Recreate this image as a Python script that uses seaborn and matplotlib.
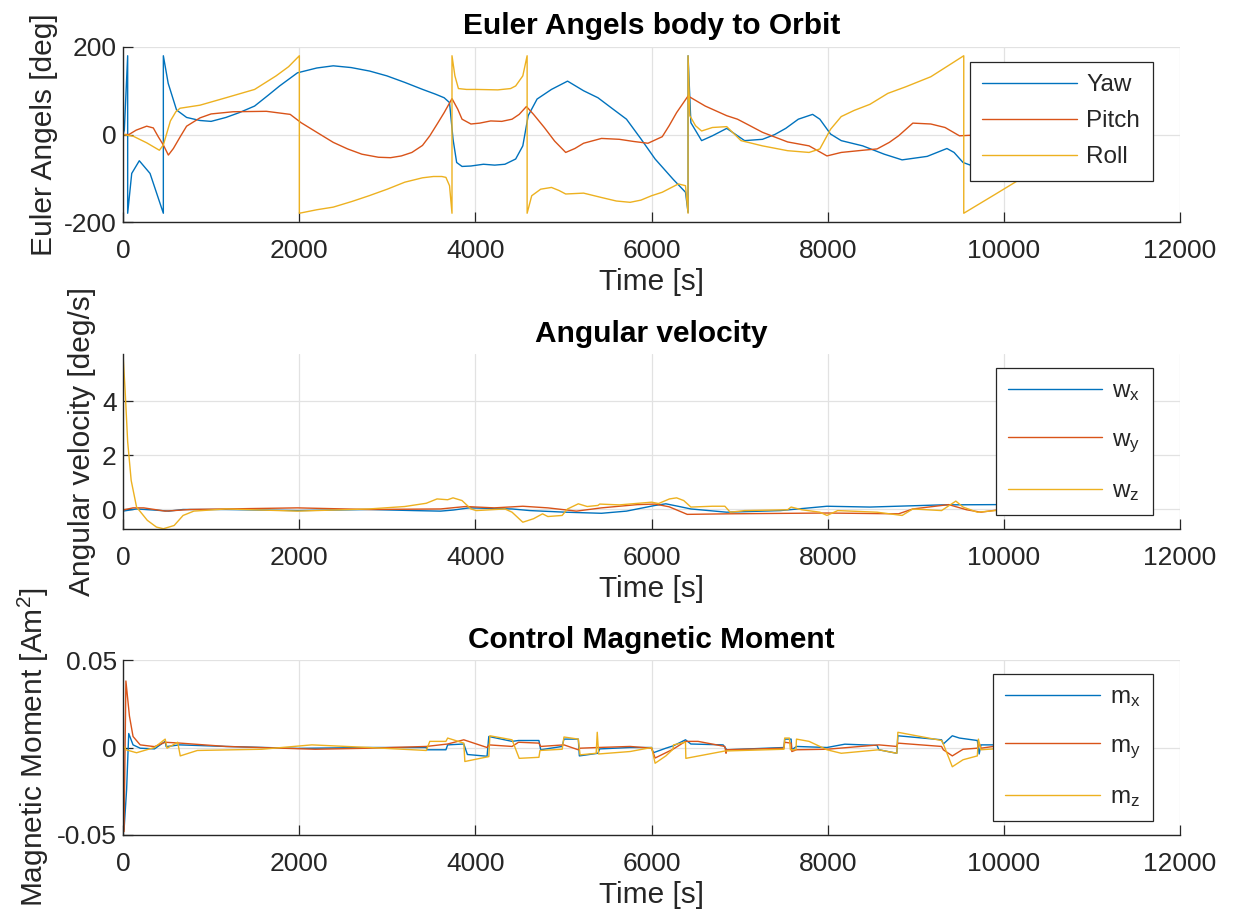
import matplotlib
matplotlib.use("Agg")
import matplotlib.pyplot as plt
import pandas as pd
import seaborn as sns

# ---- data (time [s], value) ----
YAW = [(0, 0), (15, 10), (53, 180), (53, -180), (99, -89), (185, -60), (307, -89), (458, -180),
       (458, 180), (513, 117), (608, 56), (722, 39), (874, 32), (1000, 30), (1169, 39), (1320, 50),
       (1494, 65), (1650, 90), (1778, 111), (1981, 141), (2200, 152), (2387, 157), (2590, 153),
       (2800, 145), (2996, 134), (3200, 119), (3402, 103), (3550, 92), (3646, 84), (3707, 73),
       (3747, -11), (3788, -64), (3849, -73), (3950, -72), (4092, -68), (4220, -70), (4336, -68),
       (4458, -56), (4539, -26), (4600, 43), (4701, 81), (4864, 103), (5047, 122), (5229, 100),
       (5392, 84), (5550, 60), (5716, 35), (5880, -10), (6041, -56), (6244, -102), (6386, -132),
       (6415, -178), (6415, 180), (6447, 27), (6569, -14), (6691, -3), (6854, 14), (7057, -14),
       (7260, -11), (7400, 0), (7524, 14), (7667, 35), (7829, 46), (7911, 35), (8033, 1),
       (8154, -14), (8398, -26), (8642, -45), (8845, -58), (9130, -50), (9354, -32), (9435, -41),
       (9537, -64), (9620, -70), (10000, -75), (10500, -78), (11000, -80)]
PITCH = [(0, 0), (68, 0), (150, 10), (269, 19), (344, 15), (400, -5), (458, -24), (515, -47),
         (572, -32), (650, -5), (722, 19), (874, 38), (1000, 47), (1250, 52), (1628, 53), (1898, 46),
         (2022, 27), (2200, 5), (2387, -18), (2550, -33), (2712, -45), (2900, -52), (3037, -53),
         (3160, -49), (3280, -41), (3400, -25), (3483, -3), (3570, 25), (3646, 50), (3735, 82),
         (3800, 58), (3849, 35), (3950, 24), (4050, 26), (4174, 31), (4300, 30), (4417, 35),
         (4498, 46), (4580, 64), (4661, 46), (4783, 16), (4900, -15), (5026, -41), (5130, -32),
         (5229, -20), (5432, -9), (5635, -11), (5800, -16), (5960, -20), (6122, -5), (6200, 20),
         (6285, 50), (6415, 88), (6610, 65), (6854, 43), (6976, 35), (7100, 22), (7260, 5),
         (7545, -17), (7789, -26), (7992, -49), (8154, -41), (8400, -36), (8561, -33), (8700, -18),
         (8805, -3), (8967, 26), (9171, 24), (9333, 16), (9496, -3), (9598, -2), (10000, 0),
         (10500, 1), (11000, 0)]
ROLL = [(0, 0), (117, -4), (269, -19), (413, -36), (458, -24), (538, 31), (600, 52), (647, 60),
        (874, 67), (1169, 84), (1494, 103), (1738, 134), (1880, 155), (2002, 180), (2002, -180),
        (2200, -172), (2387, -166), (2600, -153), (2793, -140), (3000, -125), (3199, -109),
        (3400, -99), (3524, -96), (3620, -96), (3666, -98), (3707, -117), (3735, -180), (3735, 180),
        (3768, 134), (3808, 105), (3900, 103), (4011, 103), (4255, 102), (4400, 105), (4458, 111),
        (4539, 134), (4588, 180), (4588, -180), (4640, -140), (4742, -125), (4864, -121),
        (4950, -128), (5026, -136), (5229, -134), (5432, -144), (5600, -152), (5757, -155),
        (5880, -150), (6000, -140), (6122, -132), (6305, -113), (6386, -117), (6415, -180),
        (6415, 180), (6435, 43), (6500, 20), (6569, 8), (6691, 16), (6854, 18), (7016, -14),
        (7260, -26), (7545, -37), (7789, -41), (7911, -33), (8033, 12), (8154, 41), (8300, 55),
        (8480, 69), (8683, 94), (8886, 109), (9171, 132), (9374, 158), (9545, 180), (9545, -180),
        (9900, -137), (10309, -87), (10700, -40), (11000, -3)]

WX = [(0, -0.06), (154, 0.02), (350, -0.02), (520, -0.06), (682, 0), (1169, 0), (1981, -0.04),
      (2793, 0), (3300, -0.04), (3605, -0.06), (3750, -0.02), (3930, 0.06), (4417, 0.02),
      (4620, -0.04), (5026, -0.1), (5432, -0.14), (5716, -0.06), (6041, 0.15), (6163, 0.21),
      (6300, 0.12), (6447, 0.02), (6854, -0.1), (7463, -0.04), (7992, 0.12), (8480, 0.09),
      (9293, 0.17), (9903, 0.18), (10500, 0.18), (11000, 0.17)]
WY = [(0, -0.02), (114, 0.06), (236, 0.06), (479, -0.06), (763, 0), (1981, 0.06), (2793, 0),
      (3605, 0.02), (3890, 0.11), (4214, 0.06), (4539, 0.12), (4823, 0.06), (5148, -0.06),
      (5432, 0.06), (5838, 0.18), (6041, 0.2), (6200, 0.1), (6406, -0.18), (6854, -0.16),
      (7992, -0.13), (8805, -0.16), (8967, 0.02), (9374, 0.18), (9577, -0.01), (9740, -0.1),
      (9943, -0.01), (10300, -0.08), (10700, -0.14), (10960, -0.16)]
WZ = [(0, 5.74), (24, 4.4), (53, 2.5), (93, 1.07), (154, 0.09), (276, -0.4), (380, -0.65),
      (459, -0.71), (581, -0.59), (682, -0.22), (804, -0.06), (1169, 0.02), (1981, -0.06),
      (2793, 0.02), (3199, 0.11), (3443, 0.23), (3565, 0.39), (3686, 0.36), (3747, 0.43),
      (3849, 0.33), (3950, 0.02), (4011, -0.04), (4336, 0.02), (4417, -0.1), (4539, -0.47),
      (4661, -0.34), (4763, -0.16), (4823, -0.26), (4985, -0.22), (5047, 0.02), (5169, 0.21),
      (5270, 0.11), (5392, 0.15), (5412, 0.2), (5635, 0.17), (6001, 0.27), (6080, 0.22),
      (6204, 0.39), (6285, 0.43), (6366, 0.33), (6447, 0.09), (6691, 0.12), (6833, 0.12),
      (6894, -0.1), (7057, -0.04), (7545, -0.01), (7585, 0.09), (7707, -0.01), (7911, -0.1),
      (7992, -0.22), (8114, -0.04), (8561, -0.1), (8845, -0.22), (8967, 0.02), (9293, -0.04),
      (9455, 0.31), (9537, 0.09), (9699, -0.1), (9903, -0.04), (10400, -0.08), (11000, -0.1)]

MX = [(0, 0.049), (12, -0.047), (41, -0.024), (65, 0.008), (114, 0.0015), (195, -0.0004),
      (357, -0.0008), (479, 0.0035), (490, 0.0005), (641, 0.0015), (1169, 0.0006), (1981, -0.0005),
      (2793, 0), (3443, 0), (3450, -0.0013), (3666, -0.0013), (3686, 0.0015), (3869, 0.002),
      (3910, -0.004), (4133, -0.005), (4153, 0.0063), (4417, 0.0035), (4490, 0.004), (4722, 0.004),
      (4742, -0.0013), (4986, 0.0006), (5006, 0.0048), (5169, 0.0048), (5181, -0.0048),
      (5392, -0.0033), (5412, -0.0008), (5757, 0), (6001, 0), (6020, -0.003), (6163, -0.0004),
      (6250, 0.001), (6386, 0.0044), (6447, 0.002), (6813, 0.0015), (6854, -0.0013), (7504, 0),
      (7512, 0.0048), (7585, 0.0048), (7593, -0.0013), (7646, 0.0006), (7992, 0), (8195, 0.0019),
      (8561, 0.0012), (8581, -0.0013), (8785, -0.0033), (8797, 0.0067), (9293, 0.0044),
      (9313, 0.002), (9415, 0.0067), (9496, 0.0054), (9699, 0.004), (9720, -0.0037),
      (9740, 0.0015), (9903, 0.0015), (10500, 0.001), (11000, 0.0008)]
MY = [(0, -0.048), (12, -0.048), (33, 0.038), (73, 0.018), (114, 0.0063), (195, 0.0015),
      (357, 0.0005), (479, 0.003), (650, 0.0025), (1169, 0.0006), (2184, -0.001), (2793, -0.0004),
      (3443, 0.0006), (3686, 0.002), (3869, 0.0044), (4133, 0), (4153, 0.0015), (4417, 0.0006),
      (4490, 0.003), (4722, 0.0025), (4742, 0.0006), (5006, 0.0015), (5169, -0.0013),
      (5189, -0.0004), (5392, 0), (5757, 0.0006), (6001, -0.0004), (6041, -0.006), (6244, -0.001),
      (6386, 0.0035), (6528, 0.0035), (6833, 0.0006), (6846, -0.0033), (6854, -0.0013),
      (7504, -0.0004), (7512, 0.003), (7585, 0.0025), (7593, -0.0023), (7646, -0.0013),
      (7992, -0.001), (8581, 0.0015), (8785, 0.0006), (8797, 0.0025), (9293, 0.0006),
      (9313, -0.0013), (9415, -0.0048), (9537, -0.001), (9699, -0.0004), (9720, 0.0025),
      (9740, -0.0004), (9882, 0.0006), (10500, 0.0003), (11000, 0.0002)]
MZ = [(0, 0.0015), (33, -0.0013), (154, -0.003), (357, 0), (479, 0.0048), (500, -0.0004),
      (621, 0.003), (650, -0.0048), (844, -0.0017), (1575, -0.001), (2144, 0.0015), (2793, 0),
      (3443, -0.0017), (3483, 0.0035), (3666, 0.0035), (3686, 0.0054), (3869, 0.0025),
      (3881, -0.008), (4153, -0.0052), (4165, 0.0067), (4417, 0.0044), (4498, -0.0062),
      (4722, -0.0056), (4734, -0.0017), (4986, -0.001), (5006, 0.006), (5169, 0.0048),
      (5189, -0.0042), (5372, -0.0033), (5384, 0.0087), (5400, -0.0037), (5757, -0.0023),
      (6001, 0), (6041, -0.009), (6163, -0.0048), (6244, -0.001), (6250, 0.0015), (6386, 0.003),
      (6390, -0.0062), (6833, -0.002), (7504, -0.001), (7512, 0.0054), (7565, 0.0054),
      (7577, -0.0013), (7640, -0.0013), (7646, 0.0048), (7789, 0.0035), (7992, -0.0013),
      (8154, -0.0033), (8581, -0.0013), (8785, -0.0033), (8797, 0.0087), (9293, 0.004),
      (9313, 0.002), (9415, -0.011), (9537, -0.007), (9699, -0.0048), (9711, 0.0048),
      (9740, -0.0013), (9882, -0.0008), (10500, -0.0005), (11000, -0.0004)]

COLORS = ["#0072BD", "#D95319", "#EDB120"]
XTICKS = list(range(0, 12001, 2000))

sns.set_theme(style="whitegrid")
plt.rcParams["font.family"] = ["Liberation Sans", "DejaVu Sans"]
plt.rcParams["axes.unicode_minus"] = False
plt.rcParams["mathtext.fontset"] = "custom"
plt.rcParams["mathtext.rm"] = "Liberation Sans"
plt.rcParams["mathtext.it"] = "Liberation Sans"

fig = plt.figure(figsize=(12.35, 9.23), dpi=100)
LEFT, WIDTH, HEIGHT = 123 / 1235, 1057 / 1235, 175 / 923


def panel(bottom_px, series, names, title, ylabel, ylim, yticks, yticklabels, leg_top, spacing):
    ax = fig.add_axes([LEFT, 1 - bottom_px / 923, WIDTH, HEIGHT])
    for pts, name, col in zip(series, names, COLORS):
        df = pd.DataFrame(pts, columns=["t", "v"])
        sns.lineplot(data=df, x="t", y="v", ax=ax, color=col, linewidth=1.0,
                     sort=False, estimator=None, label=name)
    ax.set_xlim(0, 12000)
    ax.set_ylim(*ylim)
    ax.set_xticks(XTICKS)
    ax.set_yticks(yticks)
    ax.set_yticklabels(yticklabels)
    ax.grid(True, color="#E2E2E2", linewidth=0.9)
    ax.set_axisbelow(True)
    for s in ["top", "right"]:
        ax.spines[s].set_visible(False)
    for s in ["left", "bottom"]:
        ax.spines[s].set_color("#262626")
        ax.spines[s].set_linewidth(1.0)
    ax.tick_params(bottom=True, left=True, direction="in", length=7.5, width=0.9,
                   color="#262626", labelsize=19, labelcolor="#262626")
    ax.tick_params(axis="x", pad=12)
    ax.tick_params(axis="y", pad=4.5)
    ax.set_title(title, fontsize=21.5, fontweight="bold", color="black", pad=9)
    ax.set_xlabel("Time [s]", fontsize=21.5, color="#262626")
    ax.set_ylabel(ylabel, fontsize=21.5, color="#262626")
    leg = ax.legend(loc="upper right", bbox_to_anchor=(0.974, leg_top), fontsize=17.5,
                    frameon=True, fancybox=False, framealpha=1, edgecolor="#262626",
                    handlelength=3.9, handletextpad=0.4, borderpad=0.5, labelspacing=spacing,
                    borderaxespad=0)
    leg.get_frame().set_linewidth(0.9)
    return ax


panel(222, [YAW, PITCH, ROLL], ["Yaw", "Pitch", "Roll"], "Euler Angels body to Orbit",
      "Euler Angels [deg]", (-200, 200), [-200, 0, 200], ["-200", "0", "200"], 0.914, 0.58)
panel(529, [WX, WY, WZ], [r"$\mathregular{w_x}$", r"$\mathregular{w_y}$", r"$\mathregular{w_z}$"],
      "Angular velocity", "Angular velocity [deg/s]", (-0.72, 5.74), [0, 2, 4], ["0", "2", "4"],
      0.92, 1.05)
panel(835, [MX, MY, MZ], [r"$\mathregular{m_x}$", r"$\mathregular{m_y}$", r"$\mathregular{m_z}$"],
      "Control Magnetic Moment", r"Magnetic Moment [Am$^\mathregular{2}$]", (-0.05, 0.05),
      [-0.05, 0, 0.05], ["-0.05", "0", "0.05"], 0.92, 1.05)

fig.savefig("out.png", dpi=100)
